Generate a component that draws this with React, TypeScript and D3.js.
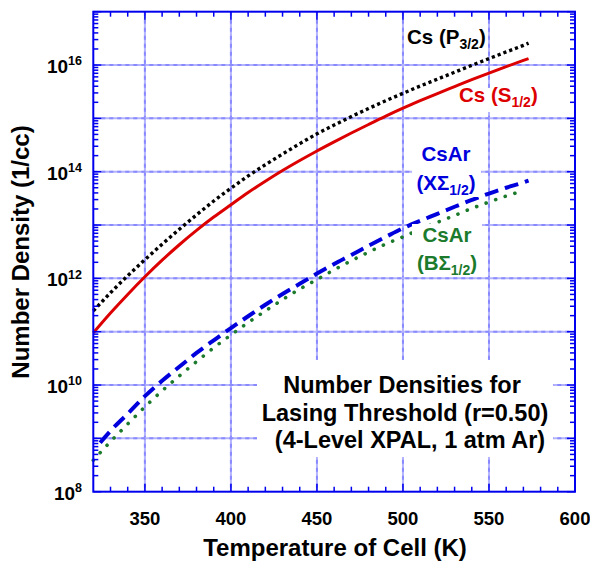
import React from "react";
import * as d3 from "d3";

// Cell temperature (K) grids for each computed series
const T_CS = [320, 330, 340, 350, 360, 370, 380, 390, 400, 410, 420, 430, 440, 450, 460, 470, 480, 490, 500, 510, 520, 530, 540, 550, 560, 570, 573];
const T_CSAR_X = [324, 330, 340, 350, 360, 370, 380, 390, 400, 410, 420, 430, 440, 450, 460, 470, 480, 490, 500, 510, 520, 530, 540, 550, 560, 570, 573];
const T_CSAR_B = [320, 330, 340, 350, 360, 370, 380, 390, 400, 410, 420, 430, 440, 450, 460, 470, 480, 490, 500, 510, 520, 530, 540, 550, 560, 570];

// Threshold number densities (1/cc)
const CS_P32 = [2.45e11, 5.37e11, 1.12e12, 2.24e12, 4.37e12, 8.32e12, 1.55e13, 2.82e13, 4.9e13, 8.32e13, 1.35e14, 2.14e14, 3.35e14, 5.13e14, 7.5e14, 1.08e15, 1.53e15, 2.14e15, 2.95e15, 4.03e15, 5.43e15, 7.33e15, 9.89e15, 1.32e16, 1.76e16, 2.34e16, 2.57e16];
const CS_S12 = [9.5e10, 2.24e11, 5.0e11, 1.07e12, 2.19e12, 4.27e12, 7.94e12, 1.41e13, 2.4e13, 4.07e13, 6.61e13, 1.05e14, 1.62e14, 2.45e14, 3.63e14, 5.31e14, 7.67e14, 1.1e15, 1.55e15, 2.14e15, 2.92e15, 3.94e15, 5.31e15, 7.08e15, 9.33e15, 1.22e16, 1.32e16];
const CSAR_X = [8.3e8, 1.38e9, 2.9e9, 6.2e9, 1.2e10, 2.2e10, 4.0e10, 6.9e10, 1.17e11, 1.95e11, 3.2e11, 5.1e11, 7.9e11, 1.23e12, 1.86e12, 2.75e12, 4.1e12, 6.0e12, 8.7e12, 1.2e13, 1.62e13, 2.2e13, 2.95e13, 3.9e13, 5.0e13, 6.3e13, 6.8e13];
const CSAR_B = [3.9e8, 8.7e8, 1.86e9, 3.9e9, 7.8e9, 1.48e10, 2.75e10, 5.0e10, 8.7e10, 1.48e11, 2.45e11, 4.0e11, 6.3e11, 9.5e11, 1.45e12, 2.15e12, 3.1e12, 4.4e12, 6.0e12, 8.3e12, 1.12e13, 1.51e13, 2.05e13, 2.7e13, 3.5e13, 4.4e13];

// Axis ticks
const X_MAJOR = [350, 400, 450, 500, 550, 600];
const X_MINOR = [330, 340, 360, 370, 380, 390, 410, 420, 430, 440, 460, 470, 480, 490, 510, 520, 530, 540, 560, 570, 580, 590];
const Y_DECADES = [8, 9, 10, 11, 12, 13, 14, 15, 16, 17];
const Y_LABELED = [8, 10, 12, 14, 16];
const Y_MINOR_MULT = [2, 3, 4, 5, 6, 7, 8, 9];

const W = 590;
const H = 563;
const L = 93.3;
const R = 575;
const TOP = 11.7;
const BOT = 491.7;

const FONT = "'Liberation Sans', Arial, Helvetica, sans-serif";
const AXIS_BLUE = "#0000ee";

const x = d3.scaleLinear().domain([320, 600]).range([L, R]);
const y = d3.scaleLog().domain([1e8, 1e17]).range([BOT, TOP]);

function pathFor(ts: number[], vs: number[]) {
  const line = d3
    .line<number>()
    .x((_, i) => x(ts[i]))
    .y((v) => y(v))
    .curve(d3.curveMonotoneX);
  return line(vs) || "";
}

export default function App() {
  const yMinor: number[] = [];
  Y_DECADES.slice(0, -1).forEach((d) => Y_MINOR_MULT.forEach((m) => yMinor.push(m * Math.pow(10, d))));

  const gridColor = "#b3b3ff";
  const gridDash = "#8a8aff";

  return (
    <svg width={W} height={H} style={{ position: "absolute", left: 0, top: 0, background: "#fff" }} fontFamily={FONT}>
      <rect x={0} y={0} width={W} height={H} fill="#fff" />
      {/* grid */}
      <g>
        {X_MAJOR.filter((t) => t < 600).map((t) => (
          <g key={"gx" + t}>
            <line x1={x(t)} x2={x(t)} y1={TOP} y2={BOT} stroke={gridColor} strokeWidth={2} />
            <line x1={x(t)} x2={x(t)} y1={TOP} y2={BOT} stroke={gridDash} strokeWidth={2} strokeDasharray="4 4" />
          </g>
        ))}
        {Y_DECADES.slice(1, -1).map((d) => (
          <g key={"gy" + d}>
            <line x1={L} x2={R} y1={y(Math.pow(10, d))} y2={y(Math.pow(10, d))} stroke={gridColor} strokeWidth={2} />
            <line x1={L} x2={R} y1={y(Math.pow(10, d))} y2={y(Math.pow(10, d))} stroke={gridDash} strokeWidth={2} strokeDasharray="4 4" />
          </g>
        ))}
      </g>

      {/* curves */}
      <path d={pathFor(T_CSAR_B, CSAR_B)} fill="none" stroke="#1c7a2c" strokeWidth={3.6} strokeLinecap="round" strokeDasharray="0.1 10" />
      <path d={pathFor(T_CSAR_X, CSAR_X)} fill="none" stroke="#0000dd" strokeWidth={4} strokeDasharray="14 7" />
      <path d={pathFor(T_CS, CS_P32)} fill="none" stroke="#000" strokeWidth={3.4} strokeDasharray="3.2 3" />
      <path d={pathFor(T_CS, CS_S12)} fill="none" stroke="#dd0000" strokeWidth={3} />

      {/* label backgrounds */}
      <rect x={257} y={360} width={296} height={97} fill="#fff" />
      <rect x={412} y={143} width={69} height={54} fill="#fff" />
      <rect x={412} y={224} width={70} height={53} fill="#fff" />
      <rect x={458} y={88} width={88} height={24} fill="#fff" />

      {/* frame ticks */}
      <g stroke={AXIS_BLUE} strokeWidth={1.5}>
        {X_MAJOR.map((t) => (
          <g key={"xt" + t}>
            <line x1={x(t)} x2={x(t)} y1={BOT} y2={BOT - 8} />
            <line x1={x(t)} x2={x(t)} y1={TOP} y2={TOP + 8} />
          </g>
        ))}
        {X_MINOR.map((t) => (
          <g key={"xm" + t}>
            <line x1={x(t)} x2={x(t)} y1={BOT} y2={BOT - 5} />
            <line x1={x(t)} x2={x(t)} y1={TOP} y2={TOP + 5} />
          </g>
        ))}
        {Y_DECADES.map((d) => (
          <g key={"yt" + d}>
            <line x1={L} x2={L + 8} y1={y(Math.pow(10, d))} y2={y(Math.pow(10, d))} />
            <line x1={R} x2={R - 8} y1={y(Math.pow(10, d))} y2={y(Math.pow(10, d))} />
          </g>
        ))}
        {yMinor.map((v, i) => (
          <g key={"ym" + i}>
            <line x1={L} x2={L + 5} y1={y(v)} y2={y(v)} />
            <line x1={R} x2={R - 5} y1={y(v)} y2={y(v)} />
          </g>
        ))}
      </g>
      <rect x={L} y={TOP} width={R - L} height={BOT - TOP} fill="none" stroke={AXIS_BLUE} strokeWidth={2} />

      {/* tick labels */}
      <g fontWeight="bold" fill="#000">
        {X_MAJOR.map((t) => (
          <text key={"xl" + t} x={x(t)} y={524.5} fontSize={18.5} textAnchor="middle">
            {t}
          </text>
        ))}
        {Y_LABELED.map((d) => (
          <text key={"yl" + d} x={82} y={y(Math.pow(10, d)) + 7.8} fontSize={19} textAnchor="end">
            10
            <tspan fontSize={12.5} dy={-7.5}>
              {d}
            </tspan>
          </text>
        ))}
      </g>

      {/* axis titles */}
      <text x={335} y={556} fontSize={24} fontWeight="bold" textAnchor="middle">
        Temperature of Cell (K)
      </text>
      <text transform={`translate(29,252) rotate(-90)`} fontSize={24} fontWeight="bold" textAnchor="middle">
        Number Density (1/cc)
      </text>

      {/* curve labels */}
      <g fontWeight="bold" fontSize={20.5}>
        <text x={407} y={44} fill="#000">
          Cs (P<tspan fontSize={14} dy={5}>3/2</tspan>
          <tspan dy={-5}>)</tspan>
        </text>
        <text x={459} y={102} fill="#dd0000">
          Cs (S<tspan fontSize={14} dy={5}>1/2</tspan>
          <tspan dy={-5}>)</tspan>
        </text>
        <text x={446} y={161} fill="#0000dd" textAnchor="middle">
          CsAr
        </text>
        <text x={446} y={190} fill="#0000dd" textAnchor="middle">
          (XΣ<tspan fontSize={14} dy={5}>1/2</tspan>
          <tspan dy={-5}>)</tspan>
        </text>
        <text x={447} y={241.5} fill="#1c7a2c" textAnchor="middle">
          CsAr
        </text>
        <text x={447} y={270} fill="#1c7a2c" textAnchor="middle">
          (BΣ<tspan fontSize={14} dy={5}>1/2</tspan>
          <tspan dy={-5}>)</tspan>
        </text>
      </g>

      {/* annotation */}
      <g fontWeight="bold" fontSize={23.5} textAnchor="middle" fill="#000">
        <text x={402} y={393}>Number Densities for</text>
        <text x={405} y={421}>Lasing Threshold (r=0.50)</text>
        <text x={410} y={448}>(4-Level XPAL, 1 atm Ar)</text>
      </g>
    </svg>
  );
}
